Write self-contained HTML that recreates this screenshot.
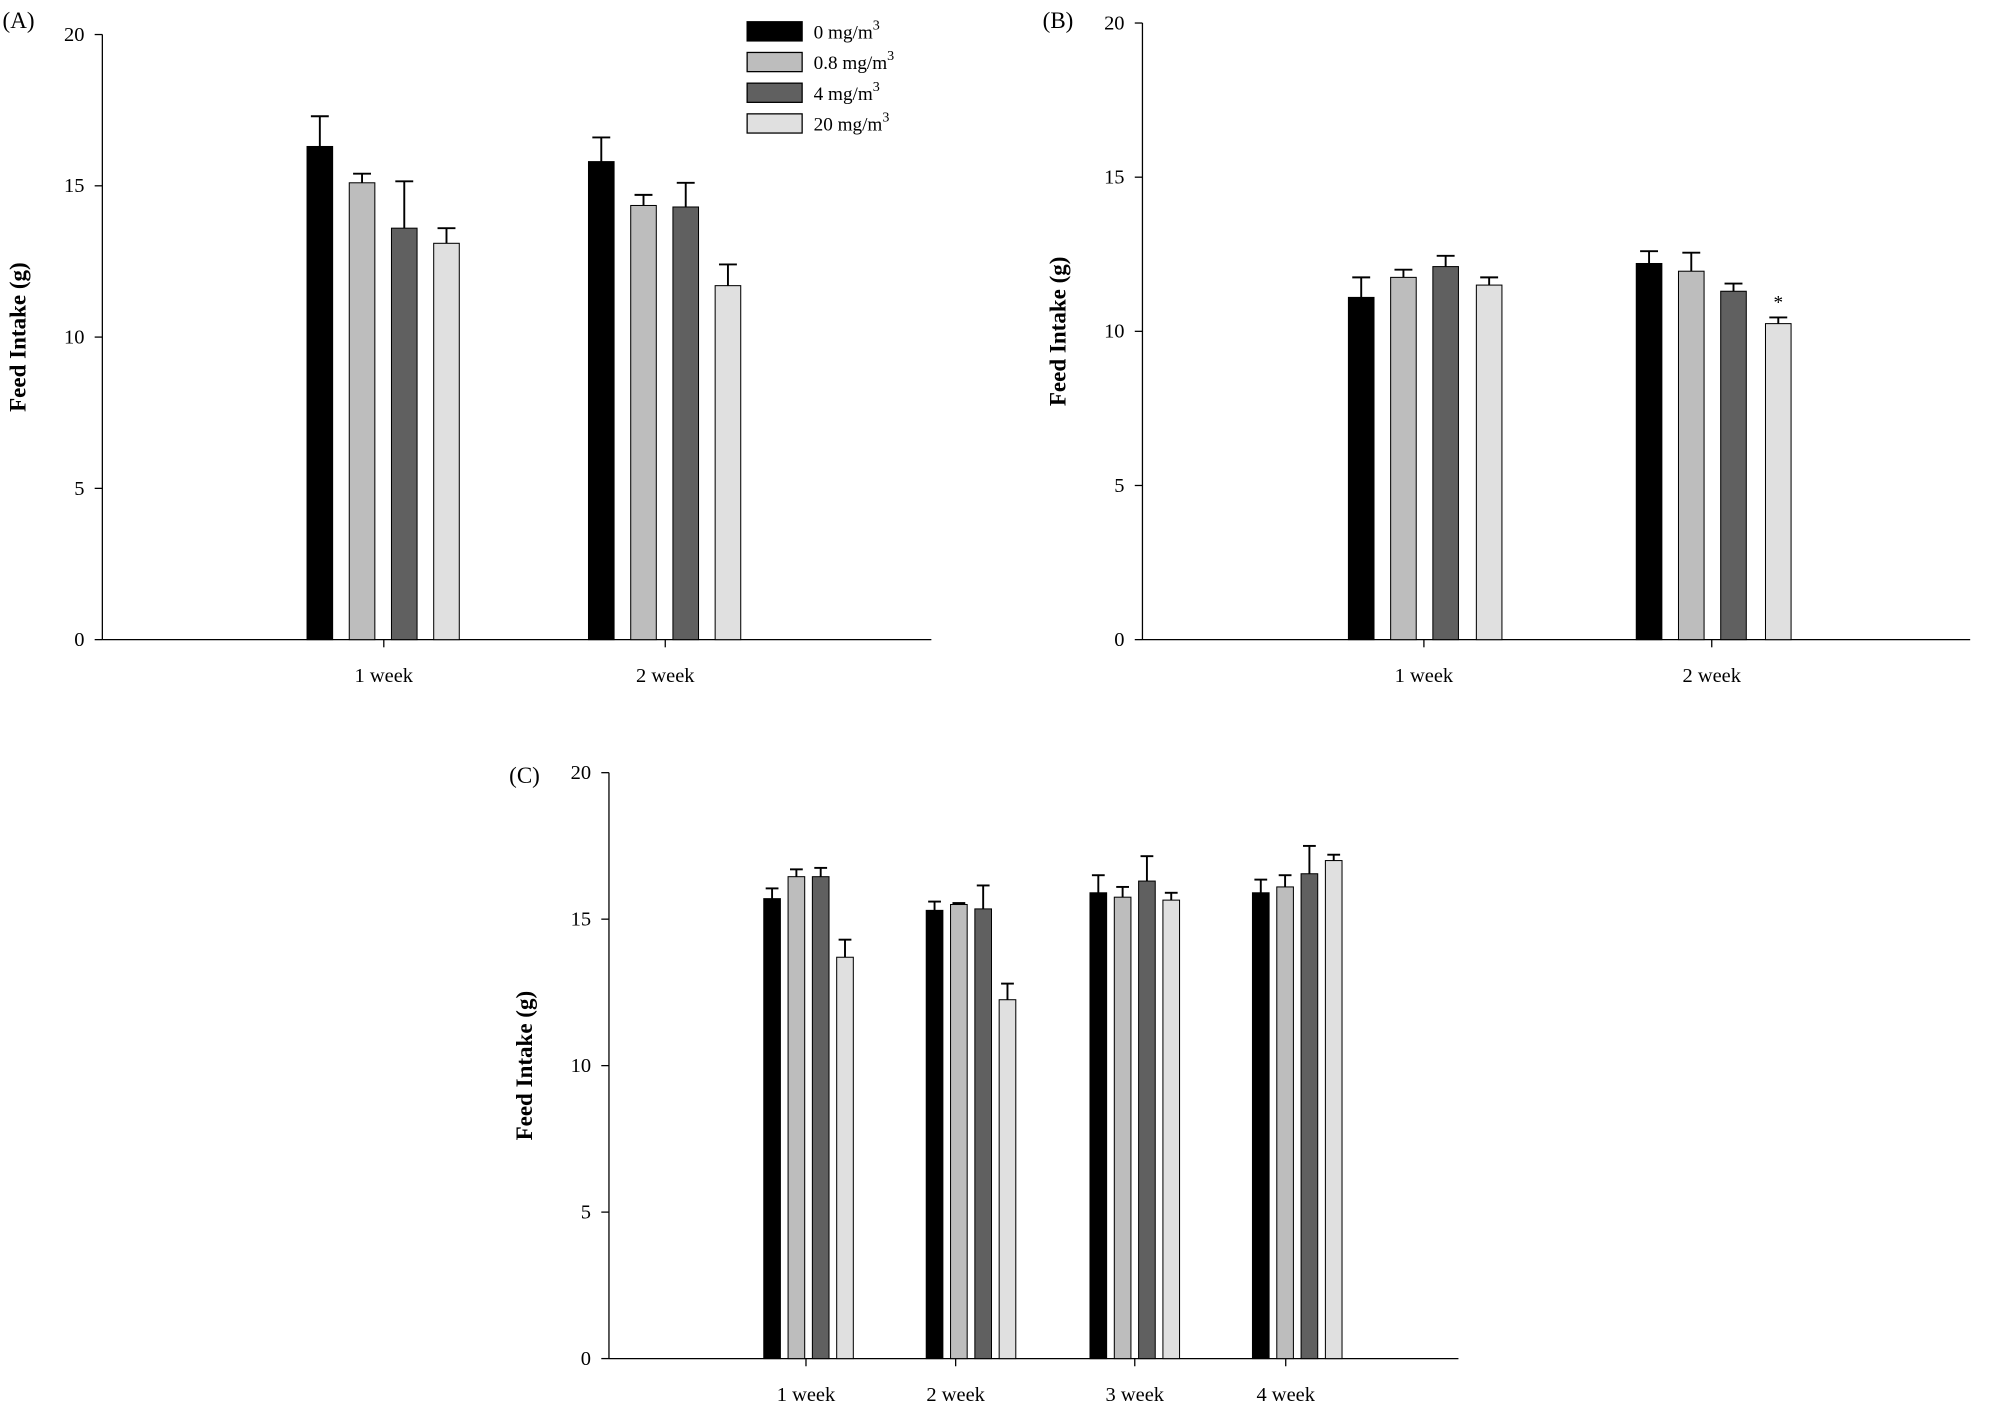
<!DOCTYPE html>
<html><head><meta charset="utf-8"><style>
html,body{margin:0;padding:0;background:#fff;}
svg{display:block;font-family:"Liberation Serif",serif;}
</style></head><body>
<svg id="s" width="2006" height="1404" viewBox="0 0 1568 1097.5" preserveAspectRatio="none" xmlns="http://www.w3.org/2000/svg">
<rect width="1568" height="1097.5" fill="#fff"/>
<text x="2" y="22" font-size="18">(A)</text>
<text x="815" y="22" font-size="18">(B)</text>
<text x="398" y="612" font-size="18">(C)</text>
<g font-size="15">
<rect x="584" y="17" width="43" height="15" fill="#000" stroke="#000"/>
<text x="636" y="30">0 mg/m<tspan dy="-7" font-size="11">3</tspan></text>
<rect x="584" y="41" width="43" height="15" fill="#bdbdbd" stroke="#000"/>
<text x="636" y="54">0.8 mg/m<tspan dy="-7" font-size="11">3</tspan></text>
<rect x="584" y="65" width="43" height="15" fill="#606060" stroke="#000"/>
<text x="636" y="78">4 mg/m<tspan dy="-7" font-size="11">3</tspan></text>
<rect x="584" y="89" width="43" height="15" fill="#e0e0e0" stroke="#000"/>
<text x="636" y="102">20 mg/m<tspan dy="-7" font-size="11">3</tspan></text>
</g>
<text x="1390" y="241" font-size="15" text-anchor="middle">*</text>
</svg>
<script>
const s=document.getElementById('s'),NS='http://www.w3.org/2000/svg';
function el(t,a,txt){const e=document.createElementNS(NS,t);for(const k in a)e.setAttribute(k,a[k]);if(txt)e.textContent=txt;s.appendChild(e);return e;}
const cols=['#000','#bdbdbd','#606060','#e0e0e0'];
function panel(p){
 const u=(p.bot-p.top)/20, Y=v=>p.bot-v*u;
 el('line',{x1:p.ax,y1:p.top,x2:p.ax,y2:p.bot,stroke:'#000','stroke-width':1});
 el('line',{x1:p.ax,y1:p.bot,x2:p.xe,y2:p.bot,stroke:'#000','stroke-width':1});
 for(let v=0;v<=20;v+=5){el('line',{x1:p.ax-6,y1:Y(v),x2:p.ax,y2:Y(v),stroke:'#000'});
  el('text',{x:p.ax-14,y:Y(v)+5,'font-size':16,'text-anchor':'end'},String(v));}
 el('text',{x:0,y:0,'font-size':18,'font-weight':'bold','text-anchor':'middle',transform:`translate(${p.ax-60},${(p.top+p.bot)/2}) rotate(-90)`},'Feed Intake (g)');
 p.groups.forEach((g,gi)=>{
  el('line',{x1:p.lab[gi],y1:p.bot,x2:p.lab[gi],y2:p.bot+6,stroke:'#000'});
  el('text',{x:p.lab[gi],y:p.bot+33,'font-size':16,'text-anchor':'middle'},(gi+1)+' week');
  g.x.forEach((x,i)=>{
   const cx=x+p.w/2;
   el('line',{x1:cx,y1:Y(g.v[i]),x2:cx,y2:Y(g.e[i]),stroke:'#000','stroke-width':1.5});
   el('line',{x1:cx-p.c,y1:Y(g.e[i]),x2:cx+p.c,y2:Y(g.e[i]),stroke:'#000','stroke-width':1.5});
   el('rect',{x:x,y:Y(g.v[i]),width:p.w,height:p.bot-Y(g.v[i]),fill:cols[i],stroke:'#000','stroke-width':0.8});
  });
 });
}
panel({ax:80,top:27,bot:500,xe:728,w:20,c:7,lab:[300,520],groups:[
 {x:[240,273,306,339],v:[16.3,15.1,13.6,13.1],e:[17.3,15.4,15.15,13.6]},
 {x:[460,493,526,559],v:[15.8,14.35,14.3,11.7],e:[16.6,14.7,15.1,12.4]}]});
panel({ax:893,top:18,bot:500,xe:1540,w:20,c:7,lab:[1113,1338],groups:[
 {x:[1054,1087,1120,1154],v:[11.1,11.75,12.1,11.5],e:[11.75,12.0,12.45,11.75]},
 {x:[1279,1312,1345,1380],v:[12.2,11.95,11.3,10.25],e:[12.6,12.55,11.55,10.45]}]});
panel({ax:476,top:604,bot:1062,xe:1140,w:13,c:5,lab:[630,747,887,1005],groups:[
 {x:[597,616,635,654],v:[15.7,16.45,16.45,13.7],e:[16.05,16.7,16.75,14.3]},
 {x:[724,743,762,781],v:[15.3,15.5,15.35,12.25],e:[15.6,15.55,16.15,12.8]},
 {x:[852,871,890,909],v:[15.9,15.75,16.3,15.65],e:[16.5,16.1,17.15,15.9]},
 {x:[979,998,1017,1036],v:[15.9,16.1,16.55,17.0],e:[16.35,16.5,17.5,17.2]}]});
</script>
</body></html>
